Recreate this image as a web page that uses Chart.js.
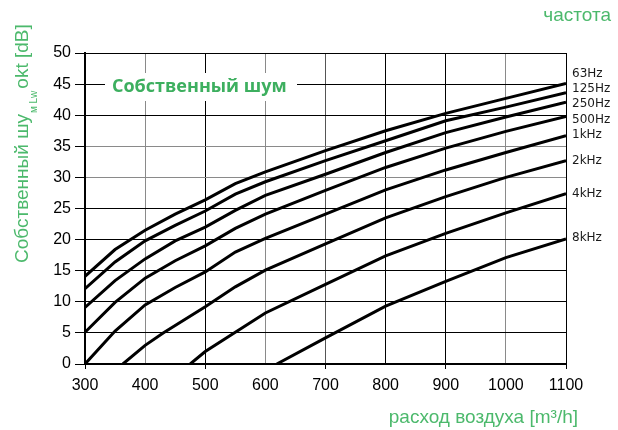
<!DOCTYPE html>
<html>
<head>
<meta charset="utf-8">
<script src="https://cdn.jsdelivr.net/npm/chart.js@4/dist/chart.umd.min.js"></script>
<style>
  html, body { margin: 0; padding: 0; background: #fff; }
  #wrap { width: 618px; height: 430px; position: relative; }
</style>
</head>
<body>
<div id="wrap"><canvas id="c" width="618" height="430"></canvas></div>
<script>
// ---- data ----
const seriesNames = ["63Hz", "125Hz", "250Hz", "500Hz", "1kHz", "2kHz", "4kHz", "8kHz"];

const flowMain = [300, 350, 400, 450, 500, 550, 600, 700, 800, 900, 1000, 1100];
const noise63  = [14.1, 18.4, 21.5, 24.1, 26.4, 29.0, 30.9, 34.3, 37.5, 40.3, 42.7, 45.1];
const noise125 = [12.1, 16.4, 19.8, 22.3, 24.6, 27.3, 29.3, 32.7, 35.9, 39.1, 41.3, 43.6];
const noise250 = [9.1, 13.4, 16.9, 19.8, 22.0, 24.7, 27.1, 30.5, 34.0, 37.2, 39.7, 42.1];
const noise500 = [5.1, 9.9, 13.8, 16.6, 19.0, 21.8, 24.1, 27.9, 31.6, 34.7, 37.4, 39.8];
const noise1k  = [0.0, 5.3, 9.5, 12.3, 14.8, 18.0, 20.2, 24.1, 28.0, 31.2, 34.0, 36.7];

const flow2k  = [363, 400, 430, 500, 550, 600, 700, 800, 900, 1000, 1100];
const noise2k = [0.0, 3.0, 5.0, 9.2, 12.4, 15.1, 19.3, 23.5, 26.9, 30.0, 32.7];

const flow4k  = [475, 500, 550, 600, 700, 800, 900, 1000, 1100];
const noise4k = [0.0, 2.0, 5.1, 8.2, 12.8, 17.4, 21.0, 24.3, 27.4];

const flow8k  = [619, 700, 800, 900, 1000, 1100];
const noise8k = [0.0, 4.2, 9.3, 13.3, 17.1, 20.1];

const xTicks = [300, 400, 500, 600, 700, 800, 900, 1000, 1100];
const yTicks = [0, 5, 10, 15, 20, 25, 30, 35, 40, 45, 50];

const chartTitle = "Собственный шум";
const xTitle = "расход воздуха [m³/h]";
const legendTitle = "частота";
const yTitleMain = "Собственный шу";
const yTitleSub = "м Lw";
const yTitleEnd = "okt [dB]";

// label anchor levels (dB) for the curve names on the right
const labelLevels = [46.6, 44.2, 41.8, 39.3, 36.8, 32.6, 27.3, 20.3];

// ---- build ----
function pts(xs, ys) { return xs.map((x, i) => ({ x: x, y: ys[i] })); }
const allSeries = [
  pts(flowMain, noise63), pts(flowMain, noise125), pts(flowMain, noise250),
  pts(flowMain, noise500), pts(flowMain, noise1k), pts(flow2k, noise2k),
  pts(flow4k, noise4k), pts(flow8k, noise8k)
];

const GREEN = "#4cb96c";
const FONT = "'Liberation Sans', Arial, sans-serif";

const decor = {
  id: "decor",
  afterDraw(chart) {
    const ctx = chart.ctx;
    const ys = chart.scales.y;
    const area = chart.chartArea;
    ctx.save();
    // title box
    ctx.fillStyle = "#fff";
    ctx.fillRect(105, 73, 192, 28);
    ctx.fillStyle = "#3daf5f";
    ctx.font = "bold 18px 'Open Sans', sans-serif";
    ctx.textAlign = "left";
    ctx.textBaseline = "middle";
    ctx.fillText(chartTitle, 112, 87);

    // curve names
    ctx.fillStyle = "#1a1a1a";
    ctx.font = "12px 'DejaVu Sans', sans-serif";
    ctx.textAlign = "left";
    ctx.textBaseline = "middle";
    seriesNames.forEach((n, i) => {
      ctx.fillText(n, area.right + 6, ys.getPixelForValue(labelLevels[i]));
    });

    // legend heading
    ctx.fillStyle = GREEN;
    ctx.font = "19px " + FONT;
    ctx.textAlign = "right";
    ctx.textBaseline = "middle";
    ctx.fillText(legendTitle, 611, 16);

    // x title
    ctx.textAlign = "right";
    ctx.fillText(xTitle, 578, 418);

    // y title (rotated, with subscript)
    ctx.translate(28, 263);
    ctx.rotate(-Math.PI / 2);
    ctx.textAlign = "left";
    ctx.textBaseline = "alphabetic";
    ctx.font = "19px " + FONT;
    ctx.fillText(yTitleMain, 0, 0);
    let w = ctx.measureText(yTitleMain).width;
    ctx.font = "10px " + FONT;
    ctx.fillText(yTitleSub, w + 1, 9);
    w += ctx.measureText(yTitleSub).width + 3;
    ctx.font = "19px " + FONT;
    ctx.fillText(yTitleEnd, w, 0);
    ctx.restore();
  }
};

const grayX = { 400: "#8a8a8a", 600: "#8a8a8a", 700: "#555", 1000: "#8a8a8a" };
const grayY = { 30: "#8a8a8a", 35: "#8a8a8a" };

new Chart(document.getElementById("c"), {
  type: "line",
  data: {
    datasets: allSeries.map((d, i) => ({
      label: seriesNames[i],
      data: d,
      borderColor: "#000",
      borderWidth: 3,
      pointRadius: 0,
      tension: 0,
      fill: false
    }))
  },
  options: {
    responsive: false,
    animation: false,
    events: [],
    layout: { padding: { left: 0, right: 52, top: 53, bottom: 0 } },
    plugins: { legend: { display: false }, tooltip: { enabled: false } },
    scales: {
      x: {
        type: "linear",
        min: 300, max: 1100,
        afterBuildTicks: s => { s.ticks = xTicks.map(v => ({ value: v })); },
        afterFit: s => { s.height = 66; },
        ticks: { color: "#000", font: { family: FONT, size: 16 }, padding: 7, maxRotation: 0,
                 callback: v => String(v) },
        grid: {
          color: c => grayX[c.tick.value] || "#000",
          lineWidth: 1,
          tickLength: 5,
          tickColor: c => ((c.tick.value - 300) % 200 === 0 ? "#000" : "rgba(0,0,0,0)")
        },
        border: { color: "#000", width: 2 }
      },
      y: {
        type: "linear",
        min: 0, max: 50,
        afterBuildTicks: s => { s.ticks = yTicks.map(v => ({ value: v })); },
        afterFit: s => { s.width = 85; },
        ticks: { color: "#000", font: { family: FONT, size: 16 }, padding: 4,
                 callback: v => String(v) },
        grid: {
          color: c => grayY[c.tick.value] || "#000",
          lineWidth: 1,
          tickLength: 10,
          tickColor: "#000"
        },
        border: { color: "#000", width: 2 }
      }
    }
  },
  plugins: [decor]
});
</script>
</body>
</html>
